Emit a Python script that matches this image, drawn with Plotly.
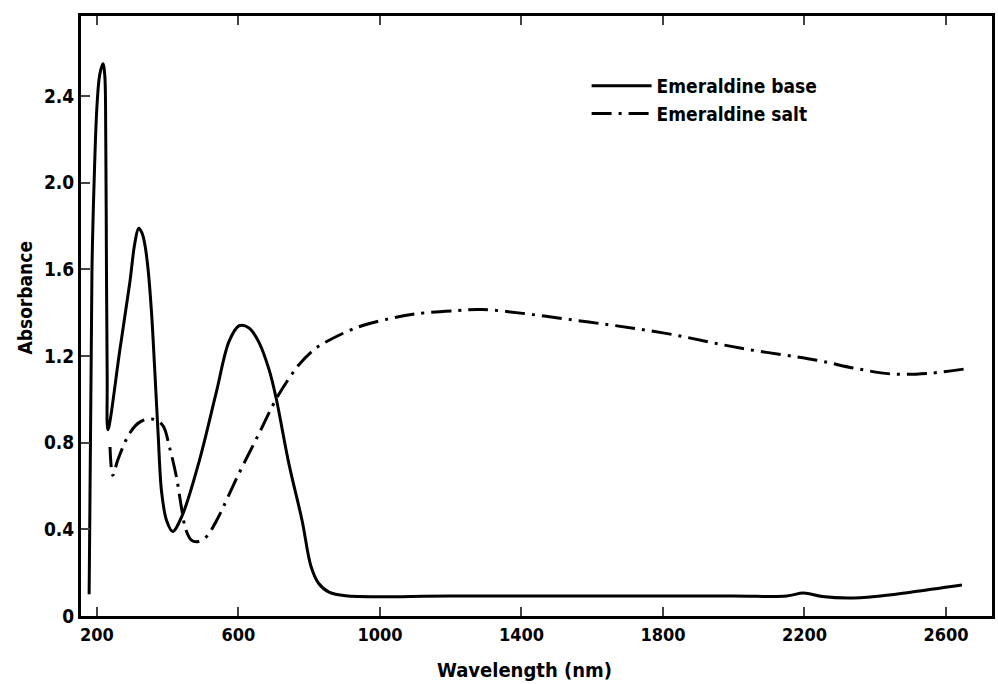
import plotly.graph_objects as go

# Emeraldine base (solid)
base_wl = [178, 186, 192, 200, 208, 217, 222, 225, 227, 229, 231, 265, 293, 307, 318, 327, 335, 344,
           354, 363, 373, 383, 397, 414, 440, 490, 537, 574, 602, 630, 659, 687, 706, 743, 780, 805,
           827, 856, 903, 1200, 1600, 2000, 2150, 2197, 2250, 2324, 2400, 2500, 2645]
base_abs = [0.10, 1.60, 2.00, 2.35, 2.50, 2.55, 2.50, 2.20, 1.60, 1.10, 0.86, 1.23, 1.54, 1.72, 1.79,
            1.77, 1.72, 1.61, 1.41, 1.15, 0.84, 0.57, 0.44, 0.39, 0.46, 0.72, 1.03, 1.27, 1.34, 1.33,
            1.26, 1.135, 1.01, 0.70, 0.44, 0.23, 0.15, 0.11, 0.093, 0.092, 0.092, 0.092, 0.092, 0.106,
            0.09, 0.083, 0.09, 0.11, 0.143]

# Emeraldine salt (dash-dot)
salt_wl = [237, 245, 259, 293, 321, 355, 386, 405, 425, 439, 451, 467, 484, 509, 538, 602, 659, 706,
           740, 771, 810, 847, 940, 1033, 1100, 1221, 1289, 1590, 1804, 2018, 2234, 2341, 2448, 2555,
           2651]
salt_abs = [0.78, 0.65, 0.72, 0.845, 0.895, 0.91, 0.88, 0.78, 0.64, 0.50, 0.40, 0.35, 0.343, 0.365,
            0.44, 0.66, 0.845, 1.00, 1.09, 1.16, 1.225, 1.265, 1.335, 1.375, 1.395, 1.41, 1.415, 1.357,
            1.306, 1.237, 1.181, 1.144, 1.117, 1.121, 1.14]

x_ticks = [200, 600, 1000, 1400, 1800, 2200, 2600]
y_ticks = [0, 0.4, 0.8, 1.2, 1.6, 2.0, 2.4]
y_tick_text = ["0", "0.4", "0.8", "1.2", "1.6", "2.0", "2.4"]

FONT = "Liberation Sans Narrow, DejaVu Sans Condensed, Arial Narrow, sans-serif"

fig = go.Figure()
fig.add_trace(go.Scatter(x=base_wl, y=base_abs, mode="lines", name="Emeraldine base",
                         line=dict(color="black", width=3, shape="spline", smoothing=1.0)))
fig.add_trace(go.Scatter(x=salt_wl, y=salt_abs, mode="lines", name="Emeraldine salt",
                         line=dict(color="black", width=3, shape="spline", smoothing=1.0,
                                   dash="20px,7px,3px,7px")))

fig.update_layout(
    width=998, height=684,
    margin=dict(l=81, r=3, t=16, b=68),
    paper_bgcolor="white", plot_bgcolor="white",
    font=dict(family=FONT, color="black", size=16, weight="bold"),
    showlegend=True,
    legend=dict(x=0.555, y=0.915, xanchor="left", yanchor="top", bgcolor="rgba(0,0,0,0)",
                font=dict(family=FONT, size=19, color="black", weight="bold"),
                tracegroupgap=0, itemwidth=60),
    xaxis=dict(range=[155, 2730], tickvals=x_ticks, ticks="inside", ticklen=9, tickwidth=2,
               showline=True, linewidth=3, linecolor="black", mirror="ticks",
               showgrid=False, zeroline=False,
               tickfont=dict(family=FONT, size=18, weight="bold")),
    yaxis=dict(range=[0, 2.77], tickvals=y_ticks, ticktext=y_tick_text, ticks="inside",
               ticklen=9, tickwidth=2, showline=True, linewidth=3, linecolor="black",
               mirror=True, showgrid=False, zeroline=False,
               tickfont=dict(family=FONT, size=19, weight="bold")),
    annotations=[
        dict(text="Wavelength (nm)", xref="paper", yref="paper", x=0.487, y=-0.09,
             xanchor="center", yanchor="middle", showarrow=False,
             font=dict(family=FONT, size=20, weight="bold")),
        dict(text="Absorbance", xref="paper", yref="paper", x=-0.062, y=0.53,
             xanchor="center", yanchor="middle", showarrow=False, textangle=-90,
             font=dict(family=FONT, size=19, weight="bold")),
    ],
)

fig.write_html("out.html")
